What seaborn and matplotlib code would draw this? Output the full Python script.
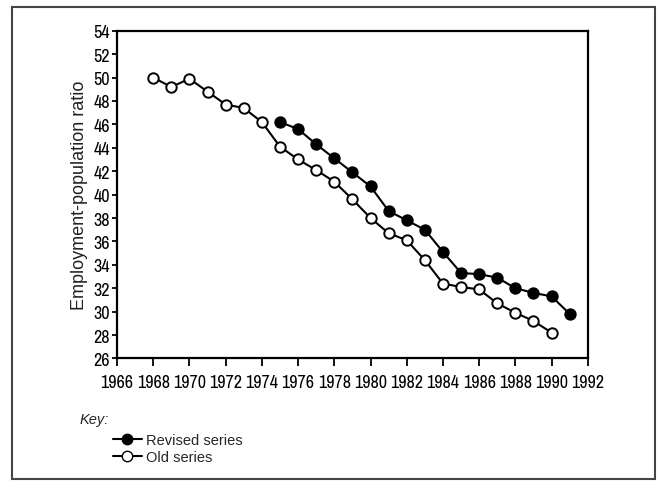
"""
Employment-population ratio: revised vs old series, 1968-1991.
"""

import matplotlib.pyplot as plt
import pandas as pd
import seaborn as sns
from matplotlib.lines import Line2D
from matplotlib.patches import Rectangle

import warnings
warnings.simplefilter(action='ignore')

# Data
old_years = list(range(1968, 1991))
old_values = [50.0, 49.2, 49.9, 48.8, 47.7, 47.4, 46.2, 44.1, 43.0, 42.1,
              41.1, 39.6, 38.0, 36.7, 36.1, 34.4, 32.4, 32.1, 31.9, 30.7,
              29.9, 29.2, 28.2]

revised_years = list(range(1975, 1992))
revised_values = [46.2, 45.6, 44.3, 43.1, 41.9, 40.7, 38.6, 37.8, 37.0,
                  35.1, 33.3, 33.2, 32.9, 32.0, 31.6, 31.3, 29.8]

x_ticks = list(range(1966, 1993, 2))
y_ticks = list(range(26, 55, 2))

NARROW = ['Archivo Narrow', 'Liberation Sans', 'DejaVu Sans']
REGULAR = ['Liberation Sans', 'DejaVu Sans']


def main():
    sns.set_style('ticks')
    plt.rcParams['font.family'] = NARROW

    old_df = pd.DataFrame({'year': old_years, 'ratio': old_values})
    rev_df = pd.DataFrame({'year': revised_years, 'ratio': revised_values})

    fig = plt.figure(figsize=(6.59, 4.89), dpi=100)
    ax = fig.add_axes([0.1775, 0.265, 0.7145, 0.670])

    # Old series: open circles
    sns.lineplot(data=old_df, x='year', y='ratio', ax=ax, color='black',
                 linewidth=1.5, marker='o', markersize=7.5,
                 markerfacecolor='white', markeredgecolor='black',
                 markeredgewidth=1.4, zorder=3)
    # Revised series: filled circles
    sns.lineplot(data=rev_df, x='year', y='ratio', ax=ax, color='black',
                 linewidth=1.5, marker='o', markersize=7.5,
                 markerfacecolor='black', markeredgecolor='black',
                 markeredgewidth=1.4, zorder=4)

    ax.set_xlim(1966, 1992)
    ax.set_ylim(26, 54)
    ax.set_xticks(x_ticks)
    ax.set_yticks(y_ticks)
    ax.tick_params(axis='x', direction='out', length=5.5, width=1.3,
                   labelsize=13, colors='black', pad=6)
    ax.tick_params(axis='y', direction='out', length=3.5, width=1.3,
                   labelsize=13, colors='black', pad=1.5)
    ax.set_xlabel('')
    ax.set_ylabel('Employment-population ratio', fontsize=13,
                  family=REGULAR, color='#222222', labelpad=4)
    for spine in ax.spines.values():
        spine.set_visible(True)
        spine.set_linewidth(1.6)
        spine.set_color('black')

    # Key
    fig.text(0.121, 0.132, 'Key:', fontsize=10.5, style='italic',
             family=REGULAR)
    handles = [
        Line2D([], [], color='black', linewidth=1.5, marker='o',
               markersize=7.5, markerfacecolor='black'),
        Line2D([], [], color='black', linewidth=1.5, marker='o',
               markersize=7.5, markerfacecolor='white',
               markeredgecolor='black'),
    ]
    fig.legend(handles, ['Revised series', 'Old series'],
               loc='upper left', bbox_to_anchor=(0.16, 0.128),
               frameon=False, prop={'family': REGULAR, 'size': 10.5},
               handlelength=2.0, handletextpad=0.3, labelspacing=0.2,
               borderpad=0.0)

    # Outer frame of the figure
    fig.patches.append(Rectangle((12 / 659, 9 / 489), 643 / 659, 472 / 489,
                                 transform=fig.transFigure, fill=False,
                                 edgecolor='#444444', linewidth=1.5))

    fig.savefig('out.png', dpi=100)


if __name__ == '__main__':
    main()
